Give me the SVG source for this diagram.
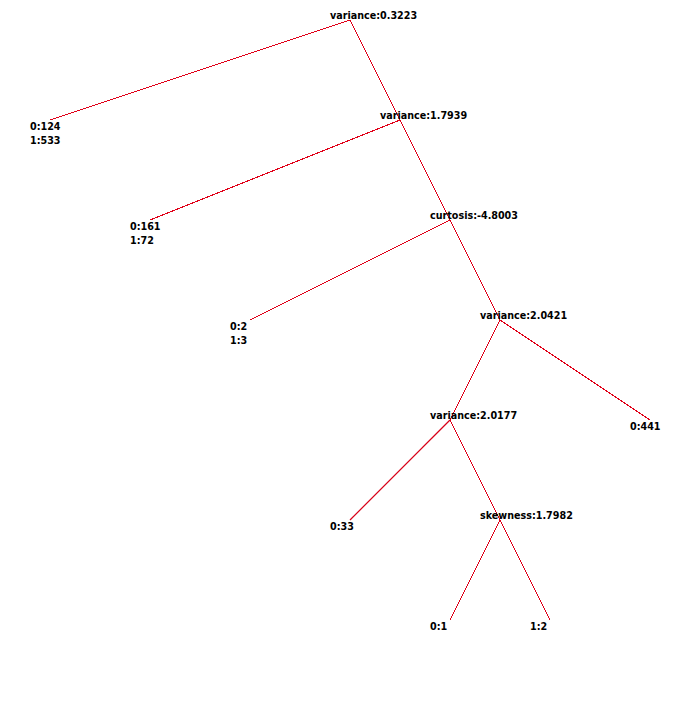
<svg xmlns="http://www.w3.org/2000/svg" width="700" height="720" viewBox="0 0 700 720">
<style>
.e{stroke:#e00018;stroke-width:1;fill:none;shape-rendering:crispEdges}
.d{stroke:#d80018;stroke-width:1.2;shape-rendering:auto}
text{font-family:"DejaVu Sans","Verdana",sans-serif;font-weight:bold;font-size:9.6px;fill:#000}
</style>
<rect width="700" height="720" fill="#fff"/>
<g id="connectors">
<path class="e" d="M350 20L50 120"/>
<path class="e" d="M350 20L400 120"/>
<path class="e" d="M400 120L150 220"/>
<path class="e" d="M400 120L450 220"/>
<path class="e" d="M450 220L250 320"/>
<path class="e" d="M450 220L500 320"/>
<path class="e" d="M500 320L450 420"/>
<path class="e" d="M500 320L650 420"/>
<path class="e d" d="M450 420L350 520"/>
<path class="e" d="M450 420L500 520"/>
<path class="e" d="M500 520L450 620"/>
<path class="e" d="M500 520L550 620"/>
</g>
<g id="n0"><text x="330" y="19">variance:0.3223</text></g>
<g id="n1"><text x="30" y="130">0:124</text><text x="30" y="144">1:533</text></g>
<g id="n2"><text x="380" y="119">variance:1.7939</text></g>
<g id="n3"><text x="130" y="230">0:161</text><text x="130" y="244">1:72</text></g>
<g id="n4"><text x="430" y="219">curtosis:-4.8003</text></g>
<g id="n5"><text x="230" y="330">0:2</text><text x="230" y="344">1:3</text></g>
<g id="n6"><text x="480" y="319">variance:2.0421</text></g>
<g id="n7"><text x="430" y="419">variance:2.0177</text></g>
<g id="n8"><text x="630" y="430">0:441</text></g>
<g id="n9"><text x="330" y="530">0:33</text></g>
<g id="n10"><text x="480" y="519">skewness:1.7982</text></g>
<g id="n11"><text x="430" y="630">0:1</text></g>
<g id="n12"><text x="530" y="630">1:2</text></g>
</svg>
